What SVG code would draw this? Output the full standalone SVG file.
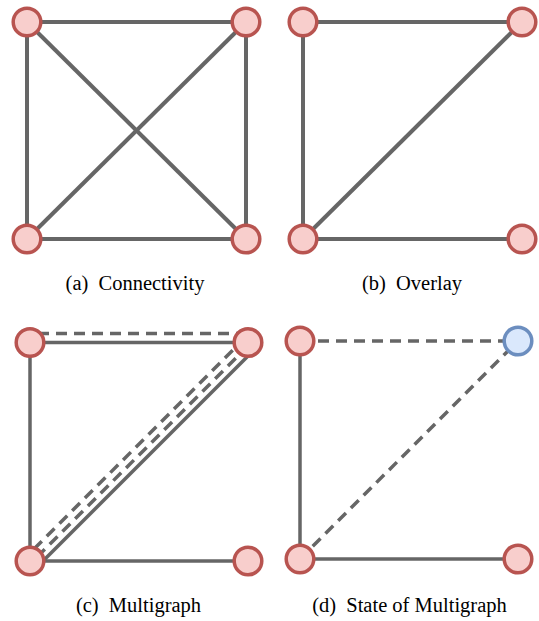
<svg xmlns="http://www.w3.org/2000/svg" width="539" height="621" viewBox="0 0 539 621">
<style>
.e{stroke:#666;stroke-width:4;fill:none}
.e2{stroke:#666;stroke-width:3.5;fill:none}
.d{stroke-dasharray:11 7}
.n{fill:#f8cecc;stroke:#b85450;stroke-width:3.5}
.nb{fill:#dae8fc;stroke:#6c8ebf;stroke-width:3.5}
.cap{font-family:"Liberation Serif","Times New Roman",serif;font-size:20.5px;fill:#000;text-anchor:middle}
</style>
<rect width="539" height="621" fill="#fff"/>
<g id="connectors">
<!-- (a) -->
<line class="e" x1="27" y1="22" x2="246" y2="22"/>
<line class="e" x1="27" y1="22" x2="27" y2="239"/>
<line class="e" x1="246" y1="22" x2="246" y2="239"/>
<line class="e" x1="27" y1="239" x2="246" y2="239"/>
<line class="e" x1="27" y1="22" x2="246" y2="239"/>
<line class="e" x1="246" y1="22" x2="27" y2="239"/>
<!-- (b) -->
<line class="e" x1="303" y1="22" x2="522" y2="22"/>
<line class="e" x1="303" y1="22" x2="303" y2="239"/>
<line class="e" x1="303" y1="239" x2="522" y2="22"/>
<line class="e" x1="303" y1="239" x2="522" y2="239"/>
<!-- (c) -->
<line class="e2 d" x1="38" y1="333.5" x2="240" y2="333.5"/>
<line class="e2" x1="30" y1="342.5" x2="248" y2="342.5"/>
<line class="e2" x1="30" y1="342.5" x2="30" y2="561"/>
<line class="e2" x1="30" y1="561" x2="248" y2="561"/>
<line class="e2" x1="42" y1="562" x2="250" y2="354"/>
<line class="e2 d" x1="37" y1="557" x2="244" y2="350"/>
<line class="e2 d" x1="34" y1="549" x2="237" y2="346"/>
<!-- (d) -->
<line class="e2 d" x1="300" y1="341" x2="518" y2="341"/>
<line class="e2" x1="300" y1="341" x2="300" y2="559"/>
<line class="e2" x1="300" y1="559" x2="518" y2="559"/>
<line class="e2 d" x1="300" y1="559" x2="518" y2="341"/>
</g>
<g id="a-tl"><circle class="n" cx="27" cy="22" r="13.8"/></g>
<g id="a-tr"><circle class="n" cx="246" cy="22" r="13.8"/></g>
<g id="a-bl"><circle class="n" cx="27" cy="239" r="13.8"/></g>
<g id="a-br"><circle class="n" cx="246" cy="239" r="13.8"/></g>
<g id="b-tl"><circle class="n" cx="303" cy="22" r="13.8"/></g>
<g id="b-tr"><circle class="n" cx="522" cy="22" r="13.8"/></g>
<g id="b-bl"><circle class="n" cx="303" cy="239" r="13.8"/></g>
<g id="b-br"><circle class="n" cx="522" cy="239" r="13.8"/></g>
<g id="c-tl"><circle class="n" cx="30" cy="342.5" r="13.8"/></g>
<g id="c-tr"><circle class="n" cx="248" cy="342.5" r="13.8"/></g>
<g id="c-bl"><circle class="n" cx="30" cy="561" r="13.8"/></g>
<g id="c-br"><circle class="n" cx="248" cy="561" r="13.8"/></g>
<g id="d-tl"><circle class="n" cx="300" cy="341" r="13.8"/></g>
<g id="d-tr"><circle class="nb" cx="518" cy="341" r="13.8"/></g>
<g id="d-bl"><circle class="n" cx="300" cy="559" r="13.8"/></g>
<g id="d-br"><circle class="n" cx="518" cy="559" r="13.8"/></g>
<g id="captions">
<text class="cap" x="135" y="290">(a) <tspan dx="5">Connectivity</tspan></text>
<text class="cap" x="412" y="290">(b) <tspan dx="5">Overlay</tspan></text>
<text class="cap" x="138.5" y="611.5">(c) <tspan dx="5">Multigraph</tspan></text>
<text class="cap" x="409.5" y="611.5">(d) <tspan dx="5">State of Multigraph</tspan></text>
</g>
</svg>
